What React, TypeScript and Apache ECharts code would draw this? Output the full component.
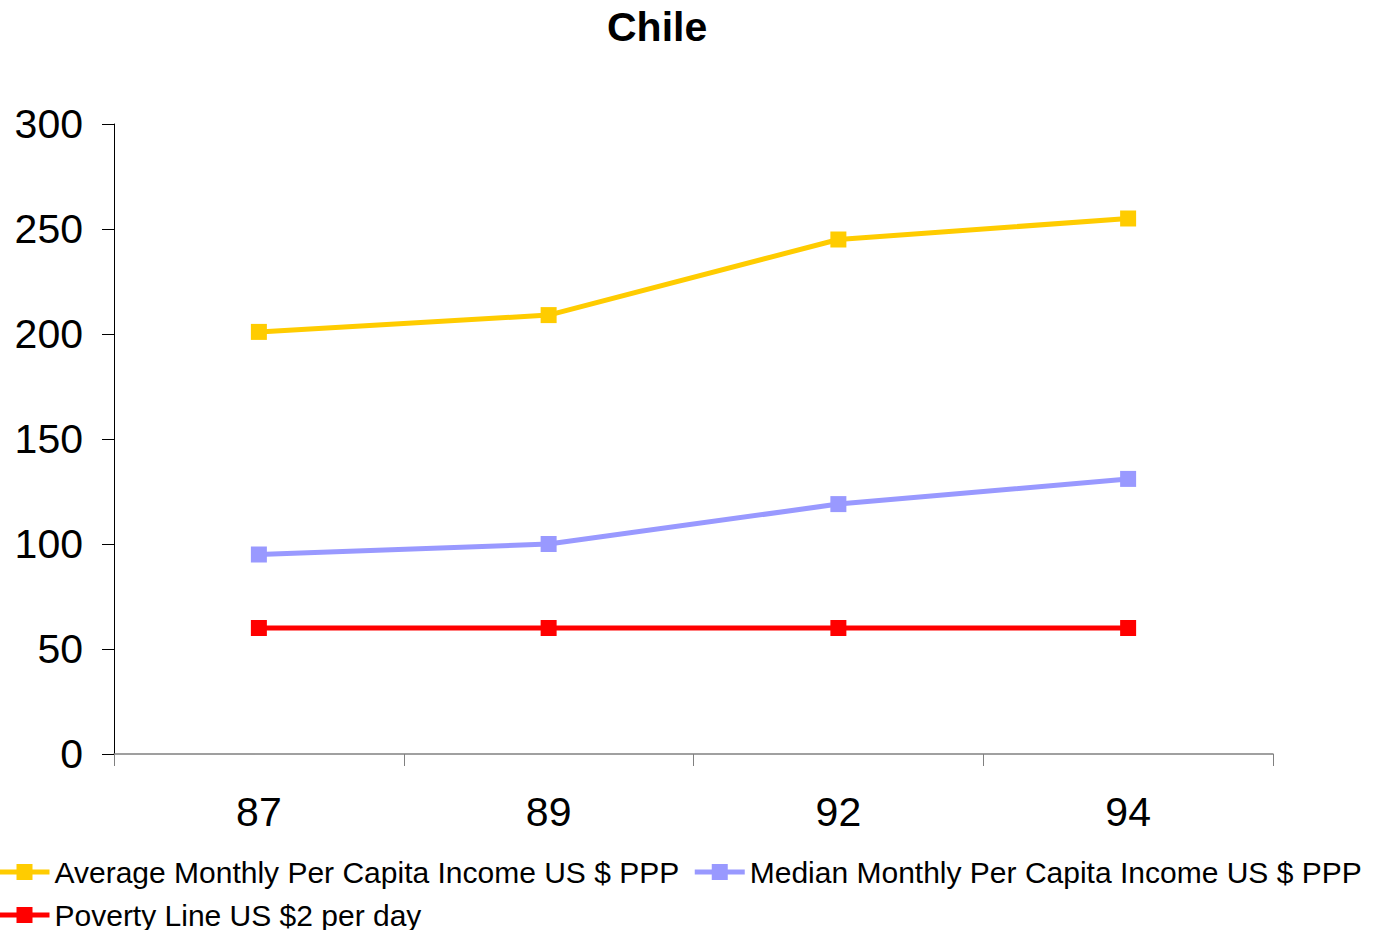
import React, { useEffect, useRef } from "react";
import * as echarts from "echarts";

const categories = ["87", "89", "92", "94"];
const averageIncome = [201, 209, 245, 255];
const medianIncome = [95, 100, 119, 131];
const povertyLine = [60, 60, 60, 60];
const seriesNames = [
  "Average Monthly Per Capita Income US $ PPP",
  "Median Monthly Per Capita Income US $ PPP",
  "Poverty Line US $2 per day",
];
const colors = ["#FFCC00", "#9999FF", "#FF0000"];

export default function App() {
  const ref = useRef<HTMLDivElement>(null);
  useEffect(() => {
    if (!ref.current) return;
    const chart = echarts.init(ref.current, undefined, { renderer: "svg" });
    const font = "'Liberation Sans', Arial, sans-serif";
    const mk = (name: string, data: number[], color: string) => ({
      name,
      type: "line",
      data,
      symbol: "rect",
      symbolSize: 16,
      lineStyle: { color, width: 5 },
      itemStyle: { color },
      color,
    });
    chart.setOption({
      animation: false,
      backgroundColor: "#ffffff",
      title: {
        text: "Chile",
        left: 602,
        top: 1,
        textStyle: { fontFamily: font, fontSize: 41, fontWeight: "bold", color: "#000" },
      },
      legend: {
        left: -3,
        top: 857,
        padding: 0,
        width: 1384,
        itemWidth: 50,
        itemHeight: 20,
        itemGap: 13,
        lineStyle: { width: 5 },
        textStyle: { fontFamily: font, fontSize: 30, color: "#000", lineHeight: 29 },
        data: seriesNames,
      },
      grid: { left: 114, right: 108, top: 124, bottom: 176, containLabel: false },
      xAxis: {
        type: "category",
        data: categories,
        boundaryGap: true,
        axisLine: { lineStyle: { color: "#808080", width: 1.5 } },
        axisTick: { show: true, length: 12, inside: false, lineStyle: { color: "#808080" } },
        axisLabel: { fontFamily: font, fontSize: 41, color: "#000", margin: 37 },
      },
      yAxis: {
        type: "value",
        min: 0,
        max: 300,
        interval: 50,
        splitLine: { show: false },
        axisLine: { show: true, lineStyle: { color: "#000", width: 1 } },
        axisTick: { show: true, length: 12, inside: false, lineStyle: { color: "#000" } },
        axisLabel: { fontFamily: font, fontSize: 41, color: "#000", margin: 31 },
      },
      series: [
        mk(seriesNames[0], averageIncome, colors[0]),
        mk(seriesNames[1], medianIncome, colors[1]),
        mk(seriesNames[2], povertyLine, colors[2]),
      ],
    });
    return () => chart.dispose();
  }, []);
  return <div ref={ref} style={{ width: 1381, height: 930, position: "absolute", left: 0, top: 0 }} />;
}
